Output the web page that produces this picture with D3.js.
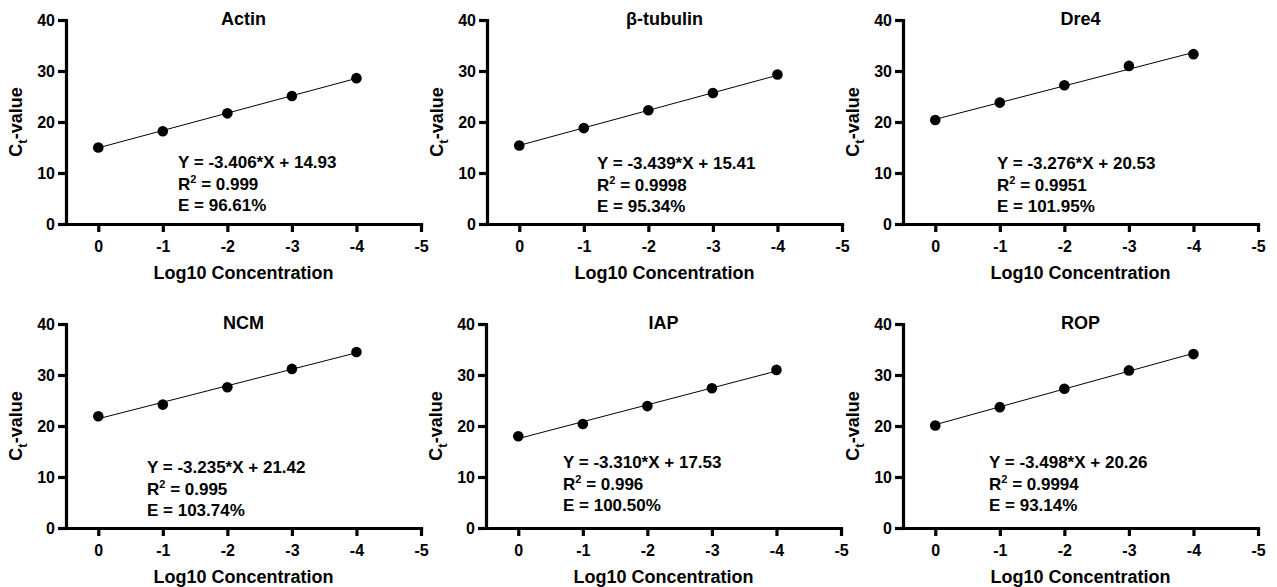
<!DOCTYPE html>
<html>
<head>
<meta charset="utf-8">
<script src="https://cdn.jsdelivr.net/npm/d3@7"></script>
<style>
  body { margin: 0; background: #fff; }
  text { font-family: "Liberation Sans", Arial, sans-serif; font-weight: bold; fill: #000; }
</style>
</head>
<body>
<div id="chart"></div>
<script>
// qPCR standard curves, one panel per gene
const genes = ["Actin", "β-tubulin", "Dre4", "NCM", "IAP", "ROP"]
const logConc = [0, -1, -2, -3, -4]
const ctValues = [
    [15.0, 18.2, 21.7, 25.1, 28.6],
    [15.4, 18.8, 22.3, 25.7, 29.3],
    [20.4, 23.8, 27.2, 31.0, 33.3],
    [21.9, 24.2, 27.6, 31.2, 34.5],
    [18.0, 20.4, 23.9, 27.4, 31.0],
    [20.1, 23.7, 27.3, 30.9, 34.1]
]
const slopes = [-3.406, -3.439, -3.276, -3.235, -3.310, -3.498]
const intercepts = [14.93, 15.41, 20.53, 21.42, 17.53, 20.26]
const rSquared = ["0.999", "0.9998", "0.9951", "0.995", "0.996", "0.9994"]
const efficiency = ["96.61%", "95.34%", "101.95%", "103.74%", "100.50%", "93.14%"]
const xTicks = [0, -1, -2, -3, -4, -5]
const yTicks = [0, 10, 20, 30, 40]

const WIDTH = 1277
const HEIGHT = 587
const PW = 355, PH = 204
const LEFTS = [[66, 487, 903], [66, 486, 903]]
const TOPS = [20, 324]
// where the equation block starts, in px from the panel's top-left corner
const EQ_POS = [[112, 148], [110, 149], [94, 149], [81, 149], [77, 144], [86, 144]]

let svg = d3.select("#chart").append("svg")
    .attr("width", WIDTH)
    .attr("height", HEIGHT)

genes.forEach((gene, i) => {
    const row = Math.floor(i / 3), col = i % 3
    const left = LEFTS[row][col], top = TOPS[row]

    let g = svg.append("g").attr("transform", `translate(${left},${top})`)

    let x = d3.scaleLinear().domain([0.5, -5]).range([0, PW])
    let y = d3.scaleLinear().domain([0, 40]).range([PH, 0])

    // axes
    let xAxis = g.append("g")
        .attr("transform", `translate(0,${PH})`)
        .call(d3.axisBottom(x).tickValues(xTicks).tickFormat(d => String(d)).tickSize(8).tickSizeOuter(0).tickPadding(9))
    let yAxis = g.append("g")
        .call(d3.axisLeft(y).tickValues(yTicks).tickSize(8).tickSizeOuter(0).tickPadding(3))

    ;[xAxis, yAxis].forEach(a => {
        a.select(".domain").attr("stroke-width", 3.2).attr("stroke-linecap", "square")
        a.selectAll(".tick line").attr("stroke-width", 3.2)
        a.selectAll(".tick text").style("font-size", "16px")
    })

    // fitted line
    let fit = logConc.map(c => [c, slopes[i] * c + intercepts[i]])
    g.append("line")
        .attr("x1", x(fit[0][0])).attr("y1", y(fit[0][1]))
        .attr("x2", x(fit[fit.length - 1][0])).attr("y2", y(fit[fit.length - 1][1]))
        .attr("stroke", "#000")
        .attr("stroke-width", 1)

    // points
    g.selectAll("circle")
        .data(logConc.map((c, j) => ({c: c, v: ctValues[i][j]})))
        .enter()
        .append("circle")
            .attr("cx", d => x(d.c))
            .attr("cy", d => y(d.v))
            .attr("r", 5.3)
            .attr("fill", "#000")

    // title
    g.append("text")
        .attr("x", PW / 2)
        .attr("y", 5)
        .attr("text-anchor", "middle")
        .style("font-size", "18px")
        .text(gene)

    // axis titles
    g.append("text")
        .attr("x", PW / 2)
        .attr("y", PH + 55)
        .attr("text-anchor", "middle")
        .style("font-size", "18px")
        .text("Log10 Concentration")

    let yl = g.append("text")
        .attr("transform", `translate(-44,${PH / 2}) rotate(-90)`)
        .attr("text-anchor", "middle")
        .style("font-size", "18px")
    yl.append("tspan").text("C")
    yl.append("tspan").attr("dy", 5).style("font-size", "13px").text("t")
    yl.append("tspan").attr("dy", -5).text("-value")

    // equation block
    const [ex, ey] = EQ_POS[i]
    let eq = g.append("g").attr("transform", `translate(${ex},${ey})`)
    const sign = intercepts[i] >= 0 ? "+" : "-"
    eq.append("text").attr("y", 0).style("font-size", "17px")
        .text(`Y = ${slopes[i].toFixed(3)}*X ${sign} ${Math.abs(intercepts[i]).toFixed(2)}`)
    let r = eq.append("text").attr("y", 22).style("font-size", "17px")
    r.append("tspan").text("R")
    r.append("tspan").attr("dy", -7).style("font-size", "11px").text("2")
    r.append("tspan").attr("dy", 7).text(` = ${rSquared[i]}`)
    eq.append("text").attr("y", 43).style("font-size", "17px")
        .text(`E = ${efficiency[i]}`)
})
</script>
</body>
</html>
